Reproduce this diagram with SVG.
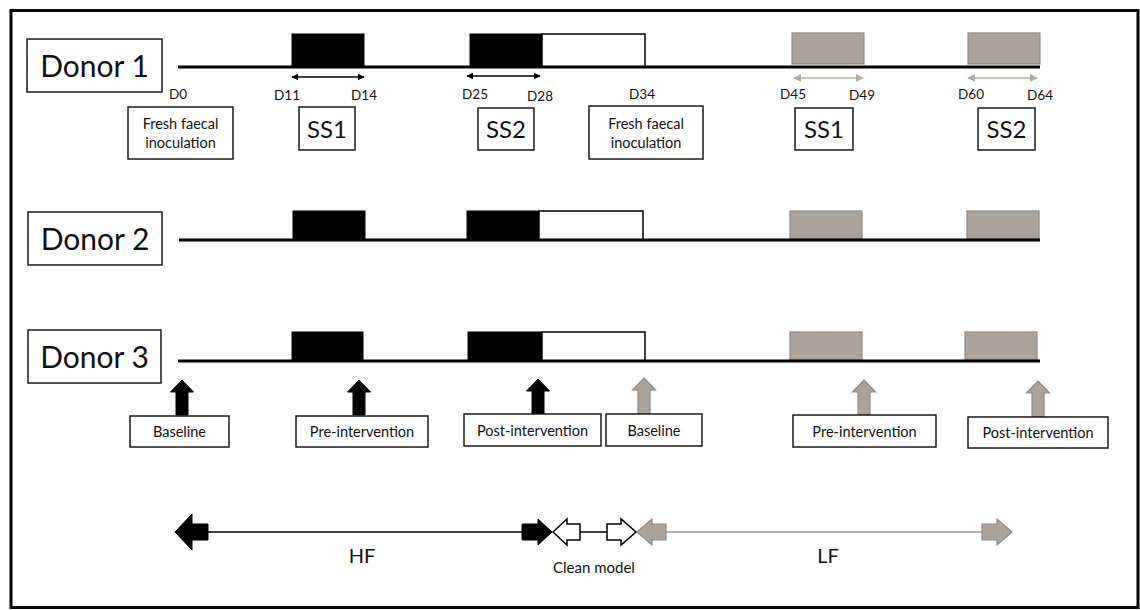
<svg xmlns="http://www.w3.org/2000/svg" width="1140" height="610" viewBox="0 0 1140 610">
<defs>
<style>
.t{font-family:Lato,"Liberation Sans",sans-serif;fill:#111;text-anchor:middle}
.box{fill:#fff;stroke:#1a1a1a;stroke-width:1.5}
.tl{stroke:#000;stroke-width:3;fill:none}
.blk{fill:#000;stroke:#000;stroke-width:1}
.wht{fill:#fff;stroke:#000;stroke-width:1.5}
.gry{fill:#aca39b;stroke:#8e8780;stroke-width:1.2}
.dn{font-size:30px}
.dl{font-size:13.5px}
.ss{font-size:24px}
.lb{font-size:14.5px}
</style>
<marker id="ab" viewBox="0 0 10 10" refX="9" refY="5" markerWidth="7" markerHeight="7" orient="auto-start-reverse" markerUnits="userSpaceOnUse"><path d="M0,0 L10,5 L0,10 z" fill="#000"/></marker>
<marker id="ag" viewBox="0 0 10 10" refX="9" refY="5" markerWidth="8" markerHeight="8" orient="auto-start-reverse" markerUnits="userSpaceOnUse"><path d="M0,0 L10,5 L0,10 z" fill="#b3aca5"/></marker>
</defs>
<rect x="0" y="0" width="1140" height="610" fill="#fff"/>
<rect x="11" y="10.5" width="1127" height="597" fill="none" stroke="#000" stroke-width="3"/>

<!-- Donor 1 -->
<g id="donor1">
<rect class="box" x="27" y="39" width="135" height="53"/>
<text class="t dn" x="94.5" y="77">Donor 1</text>
<rect class="blk" x="292" y="34" width="72" height="33"/>
<rect class="blk" x="470" y="34" width="72" height="33"/>
<rect class="wht" x="542" y="34" width="103" height="33"/>
<rect class="gry" x="792" y="33" width="72" height="31"/>
<rect class="gry" x="968" y="33" width="72" height="31"/>
<line class="tl" x1="178" y1="67" x2="1040" y2="67"/>
</g>
<g id="d1-ranges">
<line x1="292" y1="77" x2="364" y2="77" stroke="#000" stroke-width="1.3" marker-start="url(#ab)" marker-end="url(#ab)"/>
<line x1="467" y1="76" x2="540" y2="76" stroke="#000" stroke-width="1.3" marker-start="url(#ab)" marker-end="url(#ab)"/>
<line x1="794" y1="78" x2="863" y2="78" stroke="#b3aca5" stroke-width="1.5" marker-start="url(#ag)" marker-end="url(#ag)"/>
<line x1="968" y1="78" x2="1037" y2="78" stroke="#b3aca5" stroke-width="1.5" marker-start="url(#ag)" marker-end="url(#ag)"/>
</g>
<g id="d1-labels">
<text class="t dl" x="178" y="99">D0</text>
<text class="t dl" x="287" y="100">D11</text>
<text class="t dl" x="364" y="100">D14</text>
<text class="t dl" x="475" y="99">D25</text>
<text class="t dl" x="540" y="101">D28</text>
<text class="t dl" x="642" y="99">D34</text>
<text class="t dl" x="793" y="99">D45</text>
<text class="t dl" x="862" y="100">D49</text>
<text class="t dl" x="971" y="99">D60</text>
<text class="t dl" x="1040" y="100">D64</text>
</g>
<g id="fresh1">
<rect class="box" x="128" y="107" width="105" height="52"/>
<text class="t lb" x="180.5" y="129">Fresh faecal</text>
<text class="t lb" x="180.5" y="148">inoculation</text>
</g>
<g id="ss1a"><rect class="box" x="299" y="107" width="56" height="43"/><text class="t ss" x="327" y="138">SS1</text></g>
<g id="ss2a"><rect class="box" x="478" y="108" width="56" height="42"/><text class="t ss" x="506" y="138">SS2</text></g>
<g id="fresh2">
<rect class="box" x="589" y="106" width="114" height="53"/>
<text class="t lb" x="646" y="129">Fresh faecal</text>
<text class="t lb" x="646" y="148">inoculation</text>
</g>
<g id="ss1b"><rect class="box" x="795" y="108" width="58" height="42"/><text class="t ss" x="824" y="138">SS1</text></g>
<g id="ss2b"><rect class="box" x="978" y="108" width="57" height="42"/><text class="t ss" x="1006.5" y="138">SS2</text></g>

<!-- Donor 2 -->
<g id="donor2">
<rect class="box" x="28" y="212" width="134" height="53"/>
<text class="t dn" x="95" y="250">Donor 2</text>
<rect class="blk" x="293" y="211" width="72" height="29"/>
<rect class="blk" x="467" y="211" width="72" height="29"/>
<rect class="wht" x="539" y="211" width="104" height="29"/>
<rect class="gry" x="790" y="211" width="72" height="28"/>
<rect class="gry" x="967" y="211" width="72" height="28"/>
<line class="tl" x1="179" y1="240" x2="1040" y2="240"/>
</g>

<!-- Donor 3 -->
<g id="donor3">
<rect class="box" x="28" y="330" width="133" height="53"/>
<text class="t dn" x="94.5" y="368">Donor 3</text>
<rect class="blk" x="292" y="332" width="71" height="29"/>
<rect class="blk" x="468" y="332" width="74" height="29"/>
<rect class="wht" x="542" y="332" width="103" height="29"/>
<rect class="gry" x="790" y="332" width="72" height="28"/>
<rect class="gry" x="965" y="332" width="72" height="28"/>
<line class="tl" x1="178" y1="361" x2="1040" y2="361"/>
</g>

<!-- sampling arrows -->
<g id="sample-arrows">
<polygon class="blk" points="182,380 193.5,392 188,392 188,415 176,415 176,392 170.5,392"/>
<polygon class="blk" points="359,380 370.5,392 365,392 365,415 353,415 353,392 347.5,392"/>
<polygon class="blk" points="538,379 549.5,391 544,391 544,414 532,414 532,391 526.5,391"/>
<polygon class="gry" points="644,378 655.5,390 650,390 650,414 638,414 638,390 632.5,390"/>
<polygon class="gry" points="864,380 875.5,392 870,392 870,415 858,415 858,392 852.5,392"/>
<polygon class="gry" points="1038,381 1049.5,393 1044,393 1044,417 1032,417 1032,393 1026.5,393"/>
</g>
<g id="baseline1"><rect class="box" x="130" y="416" width="99" height="31"/><text class="t lb" x="179.5" y="437">Baseline</text></g>
<g id="pre1"><rect class="box" x="296" y="416" width="132" height="31"/><text class="t lb" x="362" y="437">Pre-intervention</text></g>
<g id="post1"><rect class="box" x="464" y="414" width="137" height="32"/><text class="t lb" x="532.5" y="436">Post-intervention</text></g>
<g id="baseline2"><rect class="box" x="606" y="414" width="96" height="32"/><text class="t lb" x="654" y="436">Baseline</text></g>
<g id="pre2"><rect class="box" x="793" y="415" width="143" height="32"/><text class="t lb" x="864.5" y="437">Pre-intervention</text></g>
<g id="post2"><rect class="box" x="968" y="417" width="140" height="31"/><text class="t lb" x="1038" y="438">Post-intervention</text></g>

<!-- bottom phase connectors -->
<g id="connectors">
<line x1="208" y1="532" x2="522" y2="532" stroke="#000" stroke-width="1.5"/>
<line x1="580" y1="532" x2="607" y2="532" stroke="#000" stroke-width="1.5"/>
<line x1="666" y1="532" x2="982" y2="532" stroke="#b3aca5" stroke-width="2"/>
<polygon class="blk" points="175,532 192,514 192,524 208,524 208,540 192,540 192,550"/>
<polygon class="blk" points="522,524 538,524 538,519 552,532 538,545 538,540 522,540"/>
<polygon class="wht" points="553,532 567,519 567,524 580,524 580,540 567,540 567,545"/>
<polygon class="wht" points="607,524 621,524 621,519 636,532 621,545 621,540 607,540"/>
<polygon class="gry" points="637,532 652,519 652,524 666,524 666,540 652,540 652,545"/>
<polygon class="gry" points="982,524 997,524 997,519 1012,532 997,545 997,540 982,540"/>
</g>
<g id="phase-labels">
<text class="t" style="font-size:20px" x="362" y="563">HF</text>
<text class="t" style="font-size:15px" x="594" y="573">Clean model</text>
<text class="t" style="font-size:20px" x="828" y="563">LF</text>
</g>
</svg>
